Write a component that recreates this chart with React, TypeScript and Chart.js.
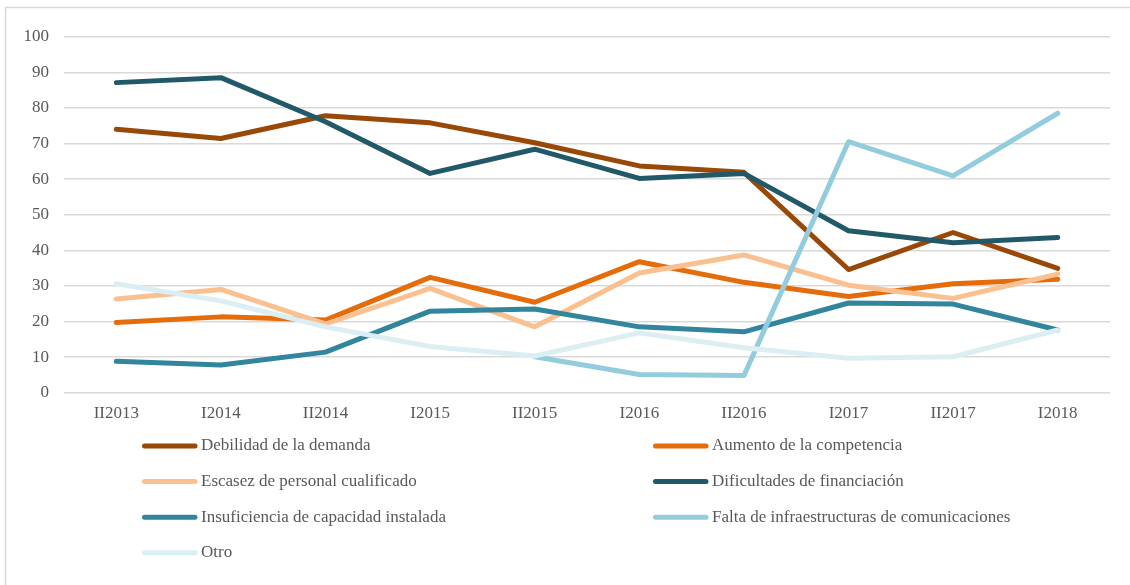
import React, { useEffect, useRef } from "react";
import { Chart, registerables } from "chart.js";

Chart.register(...registerables);

const categories = ["II2013", "I2014", "II2014", "I2015", "II2015", "I2016", "II2016", "I2017", "II2017", "I2018"];
const seriesNames = [
  "Debilidad de la demanda",
  "Aumento de la competencia",
  "Escasez de personal cualificado",
  "Dificultades de financiación",
  "Insuficiencia de capacidad instalada",
  "Falta de infraestructuras de comunicaciones",
  "Otro",
];
const debilidad = [74.0, 71.4, 77.8, 75.8, 70.2, 63.7, 61.9, 34.6, 45.0, 34.9];
const aumento = [19.7, 21.3, 20.4, 32.4, 25.4, 36.8, 31.0, 27.0, 30.6, 31.9];
const escasez = [26.3, 29.0, 19.3, 29.3, 18.5, 33.6, 38.7, 30.2, 26.5, 33.3];
const dificultades = [87.1, 88.5, 76.1, 61.6, 68.4, 60.2, 61.6, 45.5, 42.1, 43.6];
const insuficiencia = [8.8, 7.8, 11.4, 22.9, 23.5, 18.5, 17.1, 25.2, 24.9, 17.6];
const falta = [null, null, null, null, 10.1, 5.1, 4.8, 70.5, 60.9, 78.5];
const otro = [30.6, 25.8, 18.5, 13.0, 10.3, 16.8, 12.6, 9.7, 10.1, 17.6];
const colors = ["#984807", "#E46C0A", "#FAC090", "#215968", "#31859C", "#93CDDD", "#DAEEF3"];
const yTicks = [0, 10, 20, 30, 40, 50, 60, 70, 80, 90, 100];

const FONT = '"Liberation Serif", "Times New Roman", serif';
const TEXT = "#595959";

const framePlugin = {
  id: "frame",
  beforeDraw(chart: any) {
    const ctx = chart.ctx;
    ctx.save();
    ctx.fillStyle = "#ffffff";
    ctx.fillRect(0, 0, chart.width, chart.height);
    ctx.strokeStyle = "#d9d9d9";
    ctx.lineWidth = 1.5;
    ctx.beginPath();
    ctx.moveTo(5.5, chart.height);
    ctx.lineTo(5.5, 7.5);
    ctx.lineTo(chart.width, 7.5);
    ctx.stroke();
    ctx.restore();
  },
};

const legendPlugin = {
  id: "gridLegend",
  afterDraw(chart: any) {
    const ctx = chart.ctx;
    const left = chart.chartArea.left;
    chart.data.datasets.forEach((ds: any, i: number) => {
      const col = i % 2;
      const row = Math.floor(i / 2);
      const x0 = left + (col === 0 ? 78 : 589);
      const y = 446 + row * 35.6;
      ctx.save();
      ctx.strokeStyle = ds.borderColor;
      ctx.lineWidth = 5;
      ctx.lineCap = "round";
      ctx.beginPath();
      ctx.moveTo(x0 + 2.5, y);
      ctx.lineTo(x0 + 53, y);
      ctx.stroke();
      ctx.fillStyle = TEXT;
      ctx.font = `17px ${FONT}`;
      ctx.textBaseline = "middle";
      ctx.textAlign = "left";
      ctx.fillText(ds.label, x0 + 59, y);
      ctx.restore();
    });
  },
};

export default function App() {
  const ref = useRef<HTMLCanvasElement | null>(null);

  useEffect(() => {
    if (!ref.current) return;
    const values = [debilidad, aumento, escasez, dificultades, insuficiencia, falta, otro];
    const chart = new Chart(ref.current, {
      type: "line",
      data: {
        labels: categories,
        datasets: values.map((v, i) => ({
          label: seriesNames[i],
          data: v as any,
          borderColor: colors[i],
          backgroundColor: colors[i],
          borderWidth: 5,
          pointRadius: 0,
          pointHoverRadius: 0,
          tension: 0,
          fill: false,
          borderCapStyle: "round" as const,
          borderJoinStyle: "round" as const,
          order: values.length - i,
        })),
      },
      options: {
        responsive: false,
        animation: false,
        layout: { padding: { top: 36.7, left: 0, right: 20, bottom: 585 - 392.7 - 40 } },
        plugins: {
          legend: { display: false },
          tooltip: { enabled: false },
        },
        scales: {
          x: {
            type: "category",
            offset: true,
            grid: { display: false, drawTicks: false },
            border: { display: false },
            ticks: {
              color: TEXT,
              font: { family: FONT, size: 17 },
              padding: 11,
              maxRotation: 0,
              autoSkip: false,
            },
            afterFit: (s: any) => {
              s.height = 40;
            },
          },
          y: {
            min: 0,
            max: 100,
            afterBuildTicks: (s: any) => {
              s.ticks = yTicks.map((v) => ({ value: v }));
            },
            grid: { color: "#d9d9d9", lineWidth: 1.5, drawTicks: false },
            border: { display: false },
            ticks: {
              color: TEXT,
              font: { family: FONT, size: 17 },
              padding: 15,
            },
            afterFit: (s: any) => {
              s.width = 64;
            },
          },
        },
      },
      plugins: [framePlugin, legendPlugin],
    });
    return () => chart.destroy();
  }, []);

  return (
    <div style={{ position: "fixed", left: 0, top: 0, width: 1130, height: 585, background: "#fff" }}>
      <canvas ref={ref} width={1130} height={585} style={{ width: 1130, height: 585, display: "block" }} />
    </div>
  );
}
